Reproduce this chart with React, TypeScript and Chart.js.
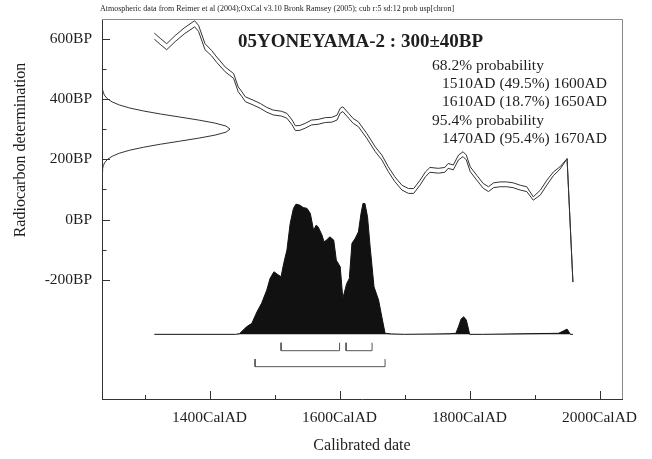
import React, { useEffect, useRef } from 'react';
import { Chart, registerables } from 'chart.js';

Chart.register(...registerables);

const HEADER = 'Atmospheric data from Reimer et al (2004);OxCal v3.10 Bronk Ramsey (2005); cub r:5 sd:12 prob usp[chron]';
const TITLE = '05YONEYAMA-2 : 300±40BP';
const PROB_HEAD = ['68.2% probability', '95.4% probability'];
const PROB_68 = ['1510AD (49.5%) 1600AD', '1610AD (18.7%) 1650AD'];
const PROB_95 = ['1470AD (95.4%) 1670AD'];
const X_TITLE = 'Calibrated date';
const Y_TITLE = 'Radiocarbon determination';

const X_TICKS = [1300, 1400, 1500, 1600, 1700, 1800, 1900, 2000];
const Y_TICKS = [-200, -100, 0, 100, 200, 300, 400, 500, 600];

// calibration curve (cal AD, 14C BP, 1 sigma)
const calYear = [1315, 1324, 1334, 1347, 1362, 1377, 1383, 1393, 1403, 1411, 1424, 1437, 1444, 1450, 1455, 1467, 1478, 1488, 1498, 1511, 1519, 1527, 1532, 1539, 1547, 1557, 1567, 1578, 1588, 1596, 1601, 1605, 1614, 1621, 1629, 1642, 1655, 1665, 1675, 1685, 1696, 1706, 1714, 1724, 1732, 1739, 1752, 1762, 1767, 1775, 1783, 1790, 1795, 1801, 1811, 1821, 1829, 1837, 1847, 1857, 1867, 1878, 1888, 1898, 1909, 1919, 1929, 1939, 1950, 1959];
const calBP = [608, 591, 573, 600, 627, 649, 634, 573, 552, 530, 498, 476, 432, 415, 399, 388, 377, 364, 355, 351, 344, 322, 303, 304, 311, 322, 324, 330, 331, 338, 361, 366, 344, 327, 316, 277, 233, 206, 167, 134, 106, 95, 95, 123, 150, 165, 162, 165, 178, 173, 206, 217, 206, 167, 139, 112, 101, 114, 117, 117, 114, 106, 101, 70, 90, 123, 152, 171, 202, -207];
const calSigma = [10, 10, 10, 10, 10, 10, 10, 10, 9, 9, 8, 8, 8, 8, 8, 8, 8, 8, 8, 8, 8, 8, 8, 8, 8, 8, 8, 8, 8, 8, 8, 8, 8, 8, 8, 8, 8, 8, 8, 8, 8, 8, 8, 8, 8, 8, 8, 8, 8, 8, 8, 8, 8, 8, 8, 8, 8, 8, 8, 8, 8, 8, 8, 5.5, 8, 8, 6, 4, 0, 0];

// measurement 300±40BP (relative density)
const measBP = [160, 170, 180, 190, 200, 210, 220, 230, 240, 250, 260, 270, 280, 290, 300, 310, 320, 330, 340, 350, 360, 370, 380, 390, 400, 410, 420, 430, 440];
const measDensity = [0.0022, 0.0051, 0.0111, 0.0228, 0.0439, 0.0796, 0.135, 0.216, 0.325, 0.458, 0.607, 0.755, 0.882, 0.969, 1, 0.969, 0.882, 0.755, 0.607, 0.458, 0.325, 0.216, 0.135, 0.0796, 0.0439, 0.0228, 0.0111, 0.0051, 0.0022];

// calibrated probability distribution (relative)
const distYear = [1315, 1440, 1446, 1457, 1465, 1473, 1480, 1488, 1493, 1499, 1506, 1510, 1514, 1519, 1524, 1529, 1533, 1539, 1544, 1550, 1555, 1560, 1564, 1567, 1573, 1576, 1580, 1585, 1591, 1595, 1601, 1605, 1611, 1615, 1619, 1624, 1629, 1633, 1636, 1639, 1643, 1647, 1653, 1660, 1665, 1670, 1680, 1700, 1750, 1770, 1779, 1783, 1787, 1791, 1795, 1798, 1800, 1820, 1937, 1944, 1950, 1952, 1955, 1959];
const distProb = [0, 0, 0.005, 0.058, 0.084, 0.173, 0.237, 0.338, 0.427, 0.478, 0.453, 0.44, 0.542, 0.644, 0.847, 0.962, 0.995, 0.987, 0.969, 0.962, 0.924, 0.796, 0.834, 0.821, 0.758, 0.707, 0.72, 0.745, 0.72, 0.567, 0.516, 0.275, 0.389, 0.427, 0.695, 0.733, 0.783, 0.924, 1.0, 1.0, 0.898, 0.669, 0.363, 0.262, 0.134, 0.008, 0.003, 0, 0.003, 0.005, 0.008, 0.06, 0.117, 0.134, 0.109, 0.048, 0, 0, 0.008, 0.025, 0.04, 0.025, 0, 0];

// ranges
const range68 = [[1510, 1600], [1610, 1650]];
const range95 = [[1470, 1670]];

const SERIF = '"Liberation Serif", "Times New Roman", serif';
const INK = '#1e1e1e';

const decorPlugin = {
  id: 'oxcalDecor',
  afterDraw(chart: any) {
    const { ctx, chartArea: a, scales } = chart;
    const xs = scales.x;
    const ys = scales.y;
    ctx.save();
    // inward ticks
    ctx.strokeStyle = '#333';
    ctx.lineWidth = 1;
    ctx.beginPath();
    X_TICKS.forEach((v) => {
      const px = Math.round(xs.getPixelForValue(v)) + 0.5;
      const len = v % 200 === 0 ? 8 : 4;
      ctx.moveTo(px, a.bottom);
      ctx.lineTo(px, a.bottom - len);
    });
    Y_TICKS.forEach((v) => {
      const py = Math.round(ys.getPixelForValue(v)) + 0.5;
      const len = v % 200 === 0 ? 8 : 4.5;
      ctx.moveTo(a.left, py);
      ctx.lineTo(a.left + len, py);
    });
    ctx.stroke();
    // frame top / right
    ctx.strokeStyle = '#8a8a8a';
    ctx.beginPath();
    ctx.moveTo(a.left, Math.round(a.top) + 0.5);
    ctx.lineTo(Math.round(a.right) + 0.5, Math.round(a.top) + 0.5);
    ctx.lineTo(Math.round(a.right) + 0.5, a.bottom);
    ctx.stroke();

    ctx.fillStyle = INK;
    ctx.textBaseline = 'alphabetic';
    // header
    ctx.font = `8px ${SERIF}`;
    ctx.textAlign = 'left';
    ctx.fillText(HEADER, 100, 11);
    // title
    ctx.font = `bold 19px ${SERIF}`;
    ctx.fillText(TITLE, 238, 46.5);
    // probabilities
    ctx.font = `15.5px ${SERIF}`;
    ctx.textAlign = 'left';
    ctx.fillText(PROB_HEAD[0], 432, 70);
    ctx.fillText(PROB_HEAD[1], 432, 124.6);
    ctx.textAlign = 'right';
    ctx.fillText(PROB_68[0], 607, 88.2);
    ctx.fillText(PROB_68[1], 607, 106.4);
    ctx.fillText(PROB_95[0], 607, 142.8);
    // axis titles
    ctx.font = `16px ${SERIF}`;
    ctx.textAlign = 'center';
    ctx.fillText(X_TITLE, (a.left + a.right) / 2, 450);
    ctx.translate(25, 150);
    ctx.rotate(-Math.PI / 2);
    ctx.fillText(Y_TITLE, 0, 0);
    ctx.restore();
  },
};

export default function App() {
  const ref = useRef<HTMLCanvasElement | null>(null);

  useEffect(() => {
    if (!ref.current) return;
    const tickFont = { family: SERIF, size: 15.5, lineHeight: 1.2 };
    const bracket = (r: number[], lo: number, hi: number) => [
      { x: r[0], y: hi },
      { x: r[0], y: lo },
      { x: r[1], y: lo },
      { x: r[1], y: hi },
    ];
    const lineBase = { showLine: true, pointRadius: 0, borderWidth: 1, tension: 0, fill: false };
    const datasets: any[] = [
      {
        ...lineBase,
        data: measBP.map((bp, i) => ({ x: measDensity[i], y: bp })),
        xAxisID: 'xg',
        yAxisID: 'y',
        borderColor: '#333',
      },
      {
        ...lineBase,
        data: calYear.map((yr, i) => ({ x: yr, y: calBP[i] + calSigma[i] })),
        xAxisID: 'x',
        yAxisID: 'y',
        borderColor: '#333',
      },
      {
        ...lineBase,
        data: calYear.map((yr, i) => ({ x: yr, y: calBP[i] - calSigma[i] })),
        xAxisID: 'x',
        yAxisID: 'y',
        borderColor: '#333',
      },
      {
        ...lineBase,
        data: distYear.map((yr, i) => ({ x: yr, y: distProb[i] })),
        xAxisID: 'x',
        yAxisID: 'yp',
        borderColor: '#111',
        backgroundColor: '#111',
        fill: { value: 0 },
      },
      ...range68.map((r) => ({
        ...lineBase,
        data: bracket(r, -0.125, -0.064),
        xAxisID: 'x',
        yAxisID: 'yp',
        borderColor: '#555',
      })),
      ...range95.map((r) => ({
        ...lineBase,
        data: bracket(r, -0.247, -0.189),
        xAxisID: 'x',
        yAxisID: 'yp',
        borderColor: '#555',
      })),
    ];

    const chart = new Chart(ref.current, {
      type: 'scatter',
      data: { datasets },
      plugins: [decorPlugin],
      options: {
        animation: false,
        responsive: false,
        devicePixelRatio: 1,
        layout: { padding: { top: 19, right: 30, left: 0, bottom: 0 } },
        plugins: { legend: { display: false }, tooltip: { enabled: false }, title: { display: false } },
        scales: {
          x: {
            type: 'linear',
            position: 'bottom',
            min: 1234.5,
            max: 2034.5,
            afterBuildTicks: (s: any) => {
              s.ticks = X_TICKS.map((v) => ({ value: v }));
            },
            afterFit: (s: any) => {
              s.height = 60;
            },
            ticks: {
              autoSkip: false,
              maxRotation: 0,
              padding: 10,
              color: INK,
              font: tickFont,
              callback: (v: any) => (Number(v) % 200 === 0 ? `${v}CalAD` : ''),
            },
            grid: { display: false, drawTicks: false },
            border: { display: true, color: '#333', width: 1 },
          },
          y: {
            type: 'linear',
            position: 'left',
            min: -594.4,
            max: 663.9,
            afterBuildTicks: (s: any) => {
              s.ticks = Y_TICKS.map((v) => ({ value: v }));
            },
            afterFit: (s: any) => {
              s.width = 102;
            },
            ticks: {
              autoSkip: false,
              padding: 10,
              color: INK,
              font: tickFont,
              callback: (v: any) => (Number(v) % 200 === 0 ? `${v}BP` : ''),
            },
            grid: { display: false, drawTicks: false },
            border: { display: true, color: '#333', width: 1 },
          },
          xg: { type: 'linear', axis: 'x', position: 'top', display: false, min: 0, max: 4.0625 },
          yp: { type: 'linear', axis: 'y', position: 'right', display: false, min: -0.494, max: 2.407 },
        },
      } as any,
    });
    return () => chart.destroy();
  }, []);

  return (
    <div style={{ position: 'absolute', left: 0, top: 0, width: 652, height: 459, background: '#fff' }}>
      <canvas ref={ref} width={652} height={459} style={{ display: 'block', width: 652, height: 459 }} />
    </div>
  );
}
